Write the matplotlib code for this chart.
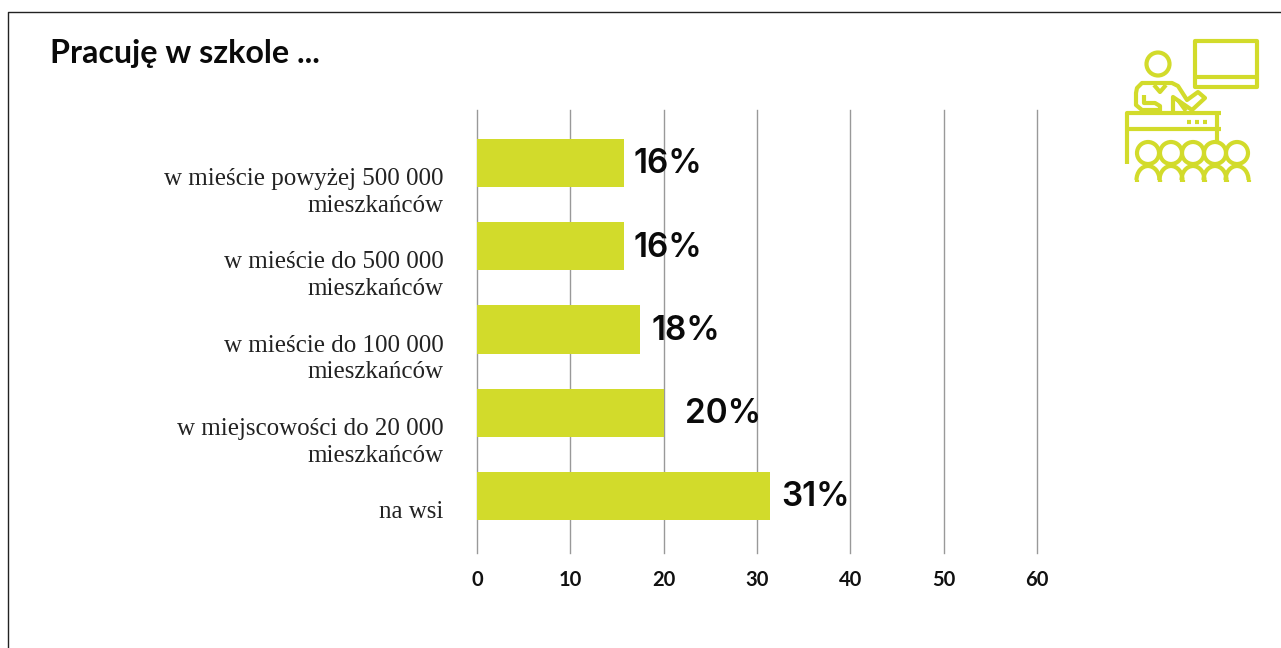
import matplotlib
matplotlib.use("Agg")
import matplotlib.pyplot as plt
from matplotlib.patches import Rectangle, Circle, Arc
from matplotlib.lines import Line2D
from matplotlib.transforms import ScaledTranslation

title = "Pracuję w szkole ..."
categories = ["w mieście powyżej 500 000\nmieszkańców",
              "w mieście do 500 000\nmieszkańców",
              "w mieście do 100 000\nmieszkańców",
              "w miejscowości do 20 000\nmieszkańców",
              "na wsi"]
values = [15.7, 15.7, 17.5, 20.0, 31.4]
bar_labels = ["16%", "16%", "18%", "20%", "31%"]
label_offsets = [10, 10, 11, 21, 11]
xticks = [0, 10, 20, 30, 40, 50, 60]
GREEN = "#D2DB2B"
W, H = 1281, 648

fig = plt.figure(figsize=(W / 100, H / 100), dpi=100, facecolor="white")
L, R, T, B = 477, 1037, 110, 553
ax = fig.add_axes([L / W, 1 - B / H, (R - L) / W, (B - T) / H])
ax.set_xlim(0, 60)
ax.set_ylim(4.685, -0.637)
ax.set_axisbelow(True)
ax.grid(axis="x", color="#999999", lw=1, clip_on=False)
ax.barh(range(5), values, height=0.58, color=GREEN, zorder=2)
for s in ax.spines.values():
    s.set_visible(False)
ax.set_xticks(xticks)
ax.tick_params(axis="both", length=0)
ax.tick_params(axis="x", pad=12)
for t in ax.get_xticklabels():
    t.set_fontfamily("Lato"); t.set_fontweight("bold"); t.set_fontsize(14.5); t.set_color("#111111")
ax.set_yticks(range(5))
ax.set_yticklabels(categories, family="Liberation Serif", fontsize=18, color="#222222",
                   ha="right", linespacing=1.28)
ax.tick_params(axis="y", pad=24)
down = ScaledTranslation(0, -5 / 100, fig.dpi_scale_trans)
for t in ax.get_yticklabels():
    t.set_va("top")
    t.set_transform(t.get_transform() + down)
for i, (v, lab, off) in enumerate(zip(values, bar_labels, label_offsets)):
    ax.annotate(lab, (v, i), xytext=(off * 0.72, -1), textcoords="offset points",
                va="center", ha="left", family="Inter", weight="semibold", fontsize=24,
                color="#0a0a0a", zorder=3)

# Overlay in pixel coordinates: title, frame, icon
ov = fig.add_axes([0, 0, 1, 1], facecolor="none")
ov.set_xlim(0, W); ov.set_ylim(H, 0); ov.axis("off")
ov.add_line(Line2D([8, 8, W], [H, 12, 12], color="#222222", lw=1))
ov.text(50, 53, title, family="Lato", weight="bold", fontsize=23.2, va="center", ha="left", color="#0a0a0a")

lw = 3.0
def line(xs, ys):
    ov.add_line(Line2D(xs, ys, color=GREEN, lw=lw, solid_capstyle="butt", solid_joinstyle="round"))
# screen
ov.add_patch(Rectangle((1195, 41), 62, 46, fill=False, ec=GREEN, lw=lw, joinstyle="round"))
line([1195, 1257], [77, 77])
# teacher
ov.add_patch(Circle((1158, 64), 11.5, fill=False, ec=GREEN, lw=lw))
line([1158, 1142, 1137, 1136, 1136, 1142, 1160], [83, 83, 88, 93, 105, 110, 110])
line([1144, 1144, 1155, 1160, 1160], [95, 103, 103, 106, 111])
line([1154, 1160, 1166], [85, 92, 85])
line([1158, 1172, 1178, 1187, 1198, 1205, 1192, 1173, 1173], [83, 83, 86, 100, 92, 98, 110, 97, 111])
line([1178, 1186], [100, 111])
# desk
line([1127, 1127, 1221], [164, 113, 113])
line([1127, 1221], [129, 129])
line([1217, 1217], [113, 142])
for x in (1189, 1197, 1205):
    line([x - 2, x + 2], [122, 122])
# students
for x in (1148, 1171, 1193, 1215, 1237):
    ov.add_patch(Arc((x, 180), 23, 28, theta1=180, theta2=360, ec=GREEN, lw=lw))
    line([x - 11.5, x - 11.5], [180, 182])
    line([x + 11.5, x + 11.5], [180, 182])
    ov.add_patch(Circle((x, 153), 11, fill=False, ec=GREEN, lw=lw))

fig.savefig("out.png", dpi=100)
